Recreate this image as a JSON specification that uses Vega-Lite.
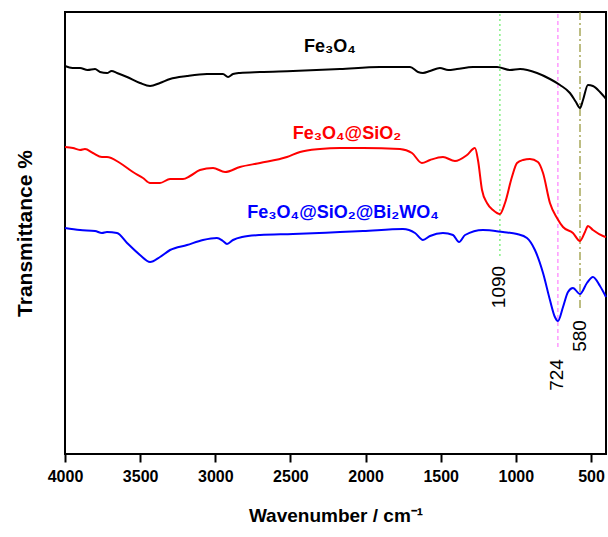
{
  "$schema": "https://vega.github.io/schema/vega-lite/v6.json",
  "autosize": "none",
  "padding": {"left": 65, "top": 12, "right": 2, "bottom": 83},
  "width": 541,
  "height": 442,
  "background": "white",
  "config": {
    "view": {"stroke": "black", "strokeWidth": 2},
    "font": "Liberation Sans"
  },
  "datasets": {
    "spectra": [
      {"series": "Fe3O4", "wn": 4000, "t": 388},
      {"series": "Fe3O4", "wn": 3950, "t": 386},
      {"series": "Fe3O4", "wn": 3900, "t": 386},
      {"series": "Fe3O4", "wn": 3850, "t": 384},
      {"series": "Fe3O4", "wn": 3800, "t": 385},
      {"series": "Fe3O4", "wn": 3767, "t": 382},
      {"series": "Fe3O4", "wn": 3720, "t": 381},
      {"series": "Fe3O4", "wn": 3690, "t": 383},
      {"series": "Fe3O4", "wn": 3654, "t": 381},
      {"series": "Fe3O4", "wn": 3587, "t": 377},
      {"series": "Fe3O4", "wn": 3501, "t": 371},
      {"series": "Fe3O4", "wn": 3434, "t": 368},
      {"series": "Fe3O4", "wn": 3368, "t": 371},
      {"series": "Fe3O4", "wn": 3301, "t": 375},
      {"series": "Fe3O4", "wn": 3188, "t": 378},
      {"series": "Fe3O4", "wn": 3055, "t": 380},
      {"series": "Fe3O4", "wn": 2949, "t": 380},
      {"series": "Fe3O4", "wn": 2915, "t": 377},
      {"series": "Fe3O4", "wn": 2882, "t": 380},
      {"series": "Fe3O4", "wn": 2836, "t": 381},
      {"series": "Fe3O4", "wn": 2702, "t": 382},
      {"series": "Fe3O4", "wn": 2483, "t": 383},
      {"series": "Fe3O4", "wn": 2170, "t": 385},
      {"series": "Fe3O4", "wn": 1904, "t": 387},
      {"series": "Fe3O4", "wn": 1704, "t": 387},
      {"series": "Fe3O4", "wn": 1651, "t": 382},
      {"series": "Fe3O4", "wn": 1618, "t": 381},
      {"series": "Fe3O4", "wn": 1571, "t": 383},
      {"series": "Fe3O4", "wn": 1505, "t": 386},
      {"series": "Fe3O4", "wn": 1450, "t": 384},
      {"series": "Fe3O4", "wn": 1392, "t": 385},
      {"series": "Fe3O4", "wn": 1285, "t": 387},
      {"series": "Fe3O4", "wn": 1125, "t": 387},
      {"series": "Fe3O4", "wn": 1039, "t": 384},
      {"series": "Fe3O4", "wn": 972, "t": 385},
      {"series": "Fe3O4", "wn": 859, "t": 381},
      {"series": "Fe3O4", "wn": 773, "t": 375},
      {"series": "Fe3O4", "wn": 706, "t": 369},
      {"series": "Fe3O4", "wn": 640, "t": 361},
      {"series": "Fe3O4", "wn": 600, "t": 352},
      {"series": "Fe3O4", "wn": 573, "t": 346},
      {"series": "Fe3O4", "wn": 553, "t": 354},
      {"series": "Fe3O4", "wn": 520, "t": 369},
      {"series": "Fe3O4", "wn": 487, "t": 368},
      {"series": "Fe3O4", "wn": 440, "t": 362},
      {"series": "Fe3O4", "wn": 400, "t": 355},

      {"series": "Fe3O4@SiO2", "wn": 4000, "t": 307},
      {"series": "Fe3O4@SiO2", "wn": 3947, "t": 306},
      {"series": "Fe3O4@SiO2", "wn": 3900, "t": 304},
      {"series": "Fe3O4@SiO2", "wn": 3867, "t": 305},
      {"series": "Fe3O4@SiO2", "wn": 3814, "t": 301},
      {"series": "Fe3O4@SiO2", "wn": 3754, "t": 297},
      {"series": "Fe3O4@SiO2", "wn": 3721, "t": 297},
      {"series": "Fe3O4@SiO2", "wn": 3634, "t": 291},
      {"series": "Fe3O4@SiO2", "wn": 3548, "t": 282},
      {"series": "Fe3O4@SiO2", "wn": 3481, "t": 276},
      {"series": "Fe3O4@SiO2", "wn": 3434, "t": 271},
      {"series": "Fe3O4@SiO2", "wn": 3368, "t": 271},
      {"series": "Fe3O4@SiO2", "wn": 3301, "t": 275},
      {"series": "Fe3O4@SiO2", "wn": 3215, "t": 275},
      {"series": "Fe3O4@SiO2", "wn": 3168, "t": 278},
      {"series": "Fe3O4@SiO2", "wn": 3102, "t": 284},
      {"series": "Fe3O4@SiO2", "wn": 3015, "t": 286},
      {"series": "Fe3O4@SiO2", "wn": 2935, "t": 282},
      {"series": "Fe3O4@SiO2", "wn": 2836, "t": 287},
      {"series": "Fe3O4@SiO2", "wn": 2702, "t": 291},
      {"series": "Fe3O4@SiO2", "wn": 2523, "t": 297},
      {"series": "Fe3O4@SiO2", "wn": 2436, "t": 302},
      {"series": "Fe3O4@SiO2", "wn": 2303, "t": 305},
      {"series": "Fe3O4@SiO2", "wn": 2170, "t": 306},
      {"series": "Fe3O4@SiO2", "wn": 2017, "t": 306},
      {"series": "Fe3O4@SiO2", "wn": 1771, "t": 305},
      {"series": "Fe3O4@SiO2", "wn": 1691, "t": 301},
      {"series": "Fe3O4@SiO2", "wn": 1625, "t": 291},
      {"series": "Fe3O4@SiO2", "wn": 1571, "t": 294},
      {"series": "Fe3O4@SiO2", "wn": 1485, "t": 297},
      {"series": "Fe3O4@SiO2", "wn": 1405, "t": 293},
      {"series": "Fe3O4@SiO2", "wn": 1325, "t": 299},
      {"series": "Fe3O4@SiO2", "wn": 1272, "t": 306},
      {"series": "Fe3O4@SiO2", "wn": 1252, "t": 294},
      {"series": "Fe3O4@SiO2", "wn": 1225, "t": 264},
      {"series": "Fe3O4@SiO2", "wn": 1192, "t": 251},
      {"series": "Fe3O4@SiO2", "wn": 1152, "t": 244},
      {"series": "Fe3O4@SiO2", "wn": 1106, "t": 240},
      {"series": "Fe3O4@SiO2", "wn": 1072, "t": 251},
      {"series": "Fe3O4@SiO2", "wn": 1026, "t": 277},
      {"series": "Fe3O4@SiO2", "wn": 992, "t": 291},
      {"series": "Fe3O4@SiO2", "wn": 952, "t": 294},
      {"series": "Fe3O4@SiO2", "wn": 906, "t": 295},
      {"series": "Fe3O4@SiO2", "wn": 853, "t": 292},
      {"series": "Fe3O4@SiO2", "wn": 819, "t": 281},
      {"series": "Fe3O4@SiO2", "wn": 773, "t": 251},
      {"series": "Fe3O4@SiO2", "wn": 726, "t": 236},
      {"series": "Fe3O4@SiO2", "wn": 686, "t": 227},
      {"series": "Fe3O4@SiO2", "wn": 620, "t": 221},
      {"series": "Fe3O4@SiO2", "wn": 573, "t": 213},
      {"series": "Fe3O4@SiO2", "wn": 540, "t": 222},
      {"series": "Fe3O4@SiO2", "wn": 520, "t": 228},
      {"series": "Fe3O4@SiO2", "wn": 487, "t": 224},
      {"series": "Fe3O4@SiO2", "wn": 420, "t": 218},
      {"series": "Fe3O4@SiO2", "wn": 400, "t": 217},

      {"series": "Fe3O4@SiO2@Bi2WO4", "wn": 4000, "t": 226},
      {"series": "Fe3O4@SiO2@Bi2WO4", "wn": 3900, "t": 224},
      {"series": "Fe3O4@SiO2@Bi2WO4", "wn": 3800, "t": 223},
      {"series": "Fe3O4@SiO2@Bi2WO4", "wn": 3754, "t": 221},
      {"series": "Fe3O4@SiO2@Bi2WO4", "wn": 3721, "t": 222},
      {"series": "Fe3O4@SiO2@Bi2WO4", "wn": 3654, "t": 221},
      {"series": "Fe3O4@SiO2@Bi2WO4", "wn": 3587, "t": 211},
      {"series": "Fe3O4@SiO2@Bi2WO4", "wn": 3501, "t": 199},
      {"series": "Fe3O4@SiO2@Bi2WO4", "wn": 3434, "t": 192},
      {"series": "Fe3O4@SiO2@Bi2WO4", "wn": 3368, "t": 197},
      {"series": "Fe3O4@SiO2@Bi2WO4", "wn": 3301, "t": 204},
      {"series": "Fe3O4@SiO2@Bi2WO4", "wn": 3188, "t": 209},
      {"series": "Fe3O4@SiO2@Bi2WO4", "wn": 3082, "t": 214},
      {"series": "Fe3O4@SiO2@Bi2WO4", "wn": 2989, "t": 216},
      {"series": "Fe3O4@SiO2@Bi2WO4", "wn": 2949, "t": 213},
      {"series": "Fe3O4@SiO2@Bi2WO4", "wn": 2922, "t": 210},
      {"series": "Fe3O4@SiO2@Bi2WO4", "wn": 2882, "t": 214},
      {"series": "Fe3O4@SiO2@Bi2WO4", "wn": 2822, "t": 217},
      {"series": "Fe3O4@SiO2@Bi2WO4", "wn": 2702, "t": 219},
      {"series": "Fe3O4@SiO2@Bi2WO4", "wn": 2483, "t": 220},
      {"series": "Fe3O4@SiO2@Bi2WO4", "wn": 2170, "t": 222},
      {"series": "Fe3O4@SiO2@Bi2WO4", "wn": 2017, "t": 223},
      {"series": "Fe3O4@SiO2@Bi2WO4", "wn": 1751, "t": 225},
      {"series": "Fe3O4@SiO2@Bi2WO4", "wn": 1671, "t": 221},
      {"series": "Fe3O4@SiO2@Bi2WO4", "wn": 1618, "t": 214},
      {"series": "Fe3O4@SiO2@Bi2WO4", "wn": 1571, "t": 218},
      {"series": "Fe3O4@SiO2@Bi2WO4", "wn": 1485, "t": 221},
      {"series": "Fe3O4@SiO2@Bi2WO4", "wn": 1418, "t": 219},
      {"series": "Fe3O4@SiO2@Bi2WO4", "wn": 1378, "t": 212},
      {"series": "Fe3O4@SiO2@Bi2WO4", "wn": 1338, "t": 219},
      {"series": "Fe3O4@SiO2@Bi2WO4", "wn": 1219, "t": 224},
      {"series": "Fe3O4@SiO2@Bi2WO4", "wn": 1086, "t": 222},
      {"series": "Fe3O4@SiO2@Bi2WO4", "wn": 992, "t": 220},
      {"series": "Fe3O4@SiO2@Bi2WO4", "wn": 926, "t": 216},
      {"series": "Fe3O4@SiO2@Bi2WO4", "wn": 873, "t": 204},
      {"series": "Fe3O4@SiO2@Bi2WO4", "wn": 819, "t": 181},
      {"series": "Fe3O4@SiO2@Bi2WO4", "wn": 773, "t": 154},
      {"series": "Fe3O4@SiO2@Bi2WO4", "wn": 740, "t": 137},
      {"series": "Fe3O4@SiO2@Bi2WO4", "wn": 720, "t": 133},
      {"series": "Fe3O4@SiO2@Bi2WO4", "wn": 686, "t": 147},
      {"series": "Fe3O4@SiO2@Bi2WO4", "wn": 653, "t": 162},
      {"series": "Fe3O4@SiO2@Bi2WO4", "wn": 620, "t": 166},
      {"series": "Fe3O4@SiO2@Bi2WO4", "wn": 573, "t": 160},
      {"series": "Fe3O4@SiO2@Bi2WO4", "wn": 527, "t": 171},
      {"series": "Fe3O4@SiO2@Bi2WO4", "wn": 487, "t": 177},
      {"series": "Fe3O4@SiO2@Bi2WO4", "wn": 440, "t": 168},
      {"series": "Fe3O4@SiO2@Bi2WO4", "wn": 400, "t": 157}
    ]
  },
  "layer": [
    {
      "data": {"values": [{"wn": 1106, "top": 440, "bottom": 197}]},
      "mark": {"type": "rule", "color": "#66ee66", "strokeWidth": 1.2, "strokeDash": [2, 3]},
      "encoding": {
        "x": {"field": "wn", "type": "quantitative", "scale": {"domain": [400, 4000], "reverse": true, "nice": false, "zero": false}, "axis": {"orient": "bottom", "values": [4000, 3750, 3500, 3250, 3000, 2750, 2500, 2250, 2000, 1750, 1500, 1250, 1000, 750, 500], "format": "d", "labelExpr": "datum.value % 500 === 0 ? datum.label : ''", "labelFlush": false, "labelOverlap": false, "domain": false, "tickColor": "black", "tickWidth": 2, "tickSize": {"condition": {"test": "datum.value % 500 === 0", "value": 8}, "value": 4}, "labelFont": "Liberation Sans", "labelFontWeight": "bold", "labelFontSize": 16, "labelColor": "black", "labelPadding": 6, "grid": false, "title": "Wavenumber / cm⁻¹", "titleFont": "Liberation Sans", "titleFontWeight": "bold", "titleFontSize": 19, "titleColor": "black", "titlePadding": 22}},
        "y": {"field": "top", "type": "quantitative", "scale": {"domain": [0, 442], "nice": false, "zero": false}, "axis": {"ticks": false, "labels": false, "domain": false, "grid": false, "title": "Transmittance %", "titleFont": "Liberation Sans", "titleFontWeight": "bold", "titleFontSize": 21, "titleColor": "black", "titlePadding": 30}},
        "y2": {"field": "bottom"}
      }
    },
    {
      "data": {"values": [{"wn": 720, "top": 440, "bottom": 107}]},
      "mark": {"type": "rule", "color": "#ff66ff", "strokeWidth": 1, "strokeDash": [4, 3]},
      "encoding": {
        "x": {"field": "wn", "type": "quantitative"},
        "y": {"field": "top", "type": "quantitative"},
        "y2": {"field": "bottom"}
      }
    },
    {
      "data": {"values": [{"wn": 573, "top": 442, "bottom": 146}]},
      "mark": {"type": "rule", "color": "#9a9a40", "strokeWidth": 1.3, "strokeDash": [8, 3, 2, 3]},
      "encoding": {
        "x": {"field": "wn", "type": "quantitative"},
        "y": {"field": "top", "type": "quantitative"},
        "y2": {"field": "bottom"}
      }
    },
    {
      "data": {"name": "spectra"},
      "mark": {"type": "line", "strokeWidth": 2, "interpolate": "monotone"},
      "encoding": {
        "x": {"field": "wn", "type": "quantitative"},
        "y": {"field": "t", "type": "quantitative"},
        "color": {"field": "series", "type": "nominal", "scale": {"domain": ["Fe3O4", "Fe3O4@SiO2", "Fe3O4@SiO2@Bi2WO4"], "range": ["#000000", "#ff0000", "#0000ff"]}, "legend": null}
      }
    },
    {
      "data": {"values": [
        {"wn": 1115, "t": 167, "label": "1090"},
        {"wn": 727, "t": 79, "label": "724"},
        {"wn": 573, "t": 118, "label": "580"}
      ]},
      "mark": {"type": "text", "angle": 270, "align": "center", "baseline": "middle", "font": "Liberation Sans", "fontSize": 19, "color": "black"},
      "encoding": {
        "x": {"field": "wn", "type": "quantitative"},
        "y": {"field": "t", "type": "quantitative"},
        "text": {"field": "label"}
      }
    },
    {
      "data": {"values": [
        {"wn": 2237, "t": 407, "label": "Fe₃O₄", "series": "Fe3O4"},
        {"wn": 2124, "t": 320, "label": "Fe₃O₄@SiO₂", "series": "Fe3O4@SiO2"},
        {"wn": 2150, "t": 241, "label": "Fe₃O₄@SiO₂@Bi₂WO₄", "series": "Fe3O4@SiO2@Bi2WO4"}
      ]},
      "mark": {"type": "text", "align": "center", "baseline": "middle", "font": "Liberation Sans", "fontWeight": "bold", "fontSize": 18},
      "encoding": {
        "x": {"field": "wn", "type": "quantitative"},
        "y": {"field": "t", "type": "quantitative"},
        "text": {"field": "label"},
        "color": {"field": "series", "type": "nominal", "legend": null}
      }
    }
  ]
}
